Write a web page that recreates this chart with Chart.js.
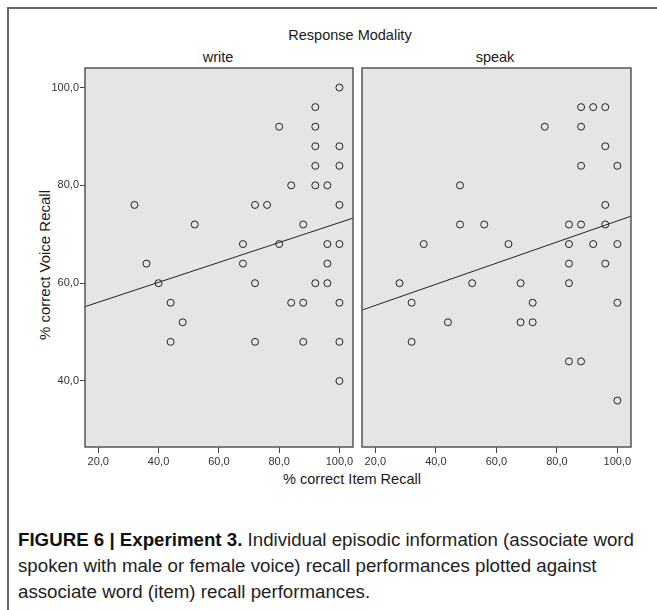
<!DOCTYPE html>
<html>
<head>
<meta charset="utf-8">
<script src="https://cdn.jsdelivr.net/npm/chart.js@4.4.1/dist/chart.umd.min.js"></script>
<style>
  body { margin: 0; background: #fff; font-family: "Liberation Sans", Arial, sans-serif; }
  #fig { position: relative; width: 657px; height: 610px; overflow: hidden; }
  .frame { position: absolute; left: 7px; top: 7px; width: 700px; height: 700px;
           border-left: 2px solid #666; border-top: 2px solid #666; }
  .lbl { position: absolute; color: #1a1a1a; font-size: 14.5px; white-space: nowrap;
         transform: translate(-50%, -50%); }
  .ytitle { font-size: 15px; transform: translate(-50%, -50%) rotate(-90deg); }
  #wrapWrite { position: absolute; left: 0; top: 0; }
  #wrapSpeak { position: absolute; left: 355px; top: 0; }
  .caption { position: absolute; left: 18px; top: 527px; width: 636px; font-size: 18.7px;
             line-height: 26px; color: #222; }
  .caption b { color: #111; }
</style>
</head>
<body>
<div id="fig">
  <div class="frame"></div>
  <div class="lbl" style="left:350px; top:35px;">Response Modality</div>
  <div class="lbl" style="left:218px; top:57px;">write</div>
  <div class="lbl" style="left:495px; top:57px;">speak</div>
  <div class="lbl ytitle" style="left:44px; top:265px;">% correct Voice Recall</div>
  <div class="lbl" style="left:352px; top:479px;">% correct Item Recall</div>
  <div id="wrapWrite"><canvas id="writeChart" width="360" height="480"></canvas></div>
  <div id="wrapSpeak"><canvas id="speakChart" width="300" height="480"></canvas></div>
  <div class="caption"><b>FIGURE 6 | Experiment 3.</b> Individual episodic information (associate word spoken with male or female voice) recall performances plotted against associate word (item) recall performances.</div>
</div>
<script>
// item recall (x) vs voice recall (y), one point per participant
const writeX = [100, 92, 80, 92, 92, 100, 92, 100, 84, 92, 96, 32, 72, 76, 100, 52, 88,
                68, 80, 96, 100, 36, 68, 96, 40, 72, 92, 96, 44, 84, 88, 100, 48, 44, 72, 88, 100, 100];
const writeY = [100, 96, 92, 92, 88, 88, 84, 84, 80, 80, 80, 76, 76, 76, 76, 72, 72,
                68, 68, 68, 68, 64, 64, 64, 60, 60, 60, 60, 56, 56, 56, 56, 52, 48, 48, 48, 48, 40];

const speakX = [88, 92, 96, 76, 88, 96, 88, 100, 48, 96, 48, 56, 84, 88, 96,
                36, 64, 84, 92, 100, 84, 96, 28, 52, 68, 84, 32, 72, 100, 44, 68, 72, 32, 84, 88, 100];
const speakY = [96, 96, 96, 92, 92, 88, 84, 84, 80, 76, 72, 72, 72, 72, 72,
                68, 68, 68, 68, 68, 64, 64, 60, 60, 60, 60, 56, 56, 56, 52, 52, 52, 48, 44, 44, 36];

// fit lines, ends at the panel edges
const writeFitX = [15.6, 104.5];
const writeFitY = [55.2, 73.3];
const speakFitX = [15.6, 104.5];
const speakFitY = [54.5, 73.7];

const xTicks = [20, 40, 60, 80, 100];
const yTicks = [40, 60, 80, 100];
const xMin = 15.6, xMax = 104.5;
const yMin = 26.5, yMax = 104;

const FONT = '"Liberation Sans", Arial, sans-serif';
const fmt = v => v.toFixed(1).replace('.', ',');

// grey panel fill + dark border around the plot area
const panelBox = {
  id: 'panelBox',
  beforeDraw(chart) {
    const { ctx, chartArea: a } = chart;
    ctx.save();
    ctx.fillStyle = '#e5e5e5';
    ctx.fillRect(a.left, a.top, a.right - a.left, a.bottom - a.top);
    ctx.restore();
  },
  afterDraw(chart) {
    const { ctx, chartArea: a } = chart;
    ctx.save();
    ctx.strokeStyle = '#555';
    ctx.lineWidth = 1.5;
    ctx.strokeRect(a.left, a.top, a.right - a.left, a.bottom - a.top);
    ctx.restore();
  }
};

function toPoints(xs, ys) {
  return xs.map((x, i) => ({ x: x, y: ys[i] }));
}

function makeChart(id, xs, ys, fx, fy, withY, pad) {
  const scales = {
    x: {
      type: 'linear', min: xMin, max: xMax,
      afterBuildTicks: s => { s.ticks = xTicks.map(v => ({ value: v })); },
      afterFit: s => { s.height = 33; },
      border: { display: false },
      grid: { drawOnChartArea: false, tickLength: 6, color: '#444' },
      ticks: { padding: 2, maxRotation: 0, minRotation: 0, color: '#333',
               font: { family: FONT, size: 11 }, callback: v => fmt(v) }
    },
    y: {
      type: 'linear', min: yMin, max: yMax, display: withY,
      afterBuildTicks: s => { s.ticks = yTicks.map(v => ({ value: v })); },
      afterFit: s => { s.width = withY ? 85 : 0; },
      border: { display: false },
      grid: { drawOnChartArea: false, tickLength: 5, color: '#444' },
      ticks: { padding: 1, color: '#333', font: { family: FONT, size: 11 }, callback: v => fmt(v) }
    }
  };
  return new Chart(document.getElementById(id), {
    type: 'scatter',
    data: {
      datasets: [
        {
          data: toPoints(xs, ys),
          pointStyle: 'circle', pointRadius: 3.5, pointHoverRadius: 3.5,
          pointBorderWidth: 1, pointBorderColor: '#222', pointBackgroundColor: 'rgba(0,0,0,0)'
        },
        {
          data: toPoints(fx, fy),
          showLine: true, pointRadius: 0, borderColor: '#222', borderWidth: 1
        }
      ]
    },
    options: {
      responsive: false,
      animation: false,
      layout: { padding: pad },
      plugins: { legend: { display: false }, tooltip: { enabled: false } },
      scales: scales
    },
    plugins: [panelBox]
  });
}

makeChart('writeChart', writeX, writeY, writeFitX, writeFitY, true,
          { left: 0, top: 68, right: 7, bottom: 0 });
makeChart('speakChart', speakX, speakY, speakFitX, speakFitY, false,
          { left: 7, top: 68, right: 24, bottom: 0 });
</script>
</body>
</html>
